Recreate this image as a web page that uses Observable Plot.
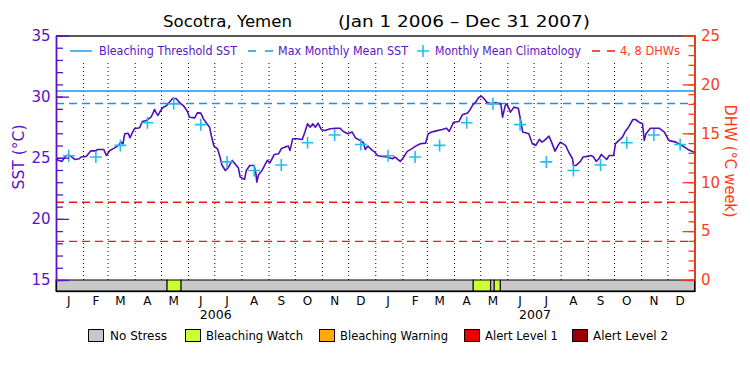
<!DOCTYPE html>
<html><head><meta charset="utf-8">
<script src="https://cdn.jsdelivr.net/npm/d3@7"></script>
<script src="https://cdn.jsdelivr.net/npm/@observablehq/plot@0.6"></script>
<style>
body{margin:0;background:#fff;}
#wrap{position:relative;width:750px;height:375px;font-family:"DejaVu Sans",sans-serif;background:#fff;}
#plot{position:absolute;left:0;top:0;}
#overlay{position:absolute;left:0;top:0;pointer-events:none;}
</style></head><body>
<div id="wrap"><div id="plot"></div><svg id="overlay" width="750" height="375"></svg></div>
<script>
// ---- data ----
const titleLeft = "Socotra, Yemen";
const titleRight = "(Jan 1 2006 – Dec 31 2007)";
const sstDay = [0,6,11,15,21,26,28,34,39,45,47,54,57,61,66,70,74,76,78,82,84,87,89,95,98,103,108,110,112,114,116,119,122,126,129,133,137,141,145,149,150,152,158,161,165,168,172,175,177,180,184,
187,189,193,196,201,204,208,210,215,217,221,226,228,229,231,235,238,241,244,249,254,257,261,265,267,270,275,281,284,287,290,293,296,299,303,307,313,319,324,328,333,338,342,347,351,353,356,361,364,
367,372,378,384,387,393,397,401,406,412,416,422,425,429,433,441,446,449,454,460,464,470,473,476,479,483,486,489,492,496,502,508,510,513,515,519,523,528,531,533,540,544,548,
552,555,558,563,566,570,573,576,582,586,590,591,594,599,602,607,611,614,617,620,623,626,629,632,637,639,643,647,651,654,659,662,666,670,672,674,679,689,695,700,708,716,722,727,730];
const sstValue = [24.9,24.74,25.23,25.23,24.9,24.96,25.1,25.15,25.6,25.6,25.72,25.72,25.23,25.64,25.83,26.0,26.32,26.18,27.0,27.05,26.67,27.14,27.41,27.49,28.0,28.09,28.36,28.63,28.99,28.71,28.5,28.9,29.18,29.31,29.58,29.91,29.86,29.53,29.31,28.9,28.77,28.36,28.3,28.71,28.69,28.22,27.82,27.54,26.86,26.0,25.77,
25.1,24.47,24.0,24.2,24.82,24.55,24.2,23.46,23.27,24.0,24.41,24.41,23.74,23.05,23.65,24.0,24.41,24.82,24.63,25.31,25.37,25.77,25.91,26.0,25.64,26.59,26.59,26.54,27.14,27.82,27.54,27.82,27.54,27.87,27.33,27.27,27.41,27.46,27.46,27.19,27.0,27.14,26.65,26.46,26.27,25.72,26.0,25.64,25.5,
25.23,25.15,25.1,24.96,25.1,24.74,25.1,25.56,25.77,26.05,26.18,26.24,27.0,27.14,27.22,27.35,27.46,27.19,27.95,28.0,28.55,28.71,28.99,29.37,29.58,29.99,30.07,29.86,29.58,29.45,29.53,29.45,28.36,29.31,29.45,28.77,29.18,29.09,27.95,27.14,27.0,26.18,26.05,
26.54,26.32,26.46,26.81,26.32,25.58,26.0,26.32,26.05,25.45,24.96,24.41,24.41,24.74,25.1,25.15,25.23,25.1,24.74,24.96,25.31,25.1,24.9,25.23,25.23,26.18,26.46,26.73,27.27,27.54,28.17,28.17,27.95,27.82,26.46,27.0,27.46,27.46,27.14,26.46,26.32,26.0,25.72,25.56,25.45];
const climYears = [2006, 2007];
const climValue = [25.2,25.1,26.05,27.9,29.45,27.75,24.7,24.0,24.45,26.27,26.9,26.12];
const bleachingThreshold = 30.5;
const maxMonthlyMean = 29.48;
const dhwLines = [4, 8];
const stressStart = ["2006-01-01","2006-05-08","2006-05-24","2007-04-23","2007-05-13","2007-05-17","2007-05-24"];
const stressEnd   = ["2006-05-08","2006-05-24","2007-04-23","2007-05-13","2007-05-17","2007-05-24","2008-01-01"];
const stressLevel = ["No Stress","Bleaching Watch","No Stress","Bleaching Watch","No Stress","Bleaching Watch","No Stress"];
const stressNames = ["No Stress","Bleaching Watch","Bleaching Warning","Alert Level 1","Alert Level 2"];
const stressColors = ["#c8c8c8","#ccff33","#ffaa00","#ee0000","#990000"];
const monthLetters = ["J","F","M","A","M","J","J","A","S","O","N","D"];
const sstMajorTicks = [15,20,25,30,35];
const sstMinorTicks = d3.range(15, 36);
const dhwMajorTicks = [0,5,10,15,20,25];
const dhwMinorTicks = d3.range(0, 26);
const topLegend = ["Bleaching Threshold SST","Max Monthly Mean SST","Monthly Mean Climatology","4, 8 DHWs"];

// ---- styles ----
const purple = "#5a14c4", lineColor = "#5010b8", blue = "#1496f0", cyan = "#20bff0", red = "#ee1a1a", orange = "#ff3c14";

// ---- derived ----
const start = new Date(Date.UTC(2006,0,1));
const end = new Date(Date.UTC(2008,0,1));
const sst = sstDay.map((d,i)=>({date: d3.utcDay.offset(start, d), value: sstValue[i]}));
const clim = climYears.flatMap(yr => climValue.map((v,m)=>({date: new Date(Date.UTC(yr,m,15)), value: v})));
const dhwToSst = d => 15 + d*20/25;
const stress = stressStart.map((s,i)=>({x1: new Date(s+"T00:00Z"), x2: new Date(stressEnd[i]+"T00:00Z"), level: stressLevel[i]}));
const colorOf = name => stressColors[stressNames.indexOf(name)];
const monthStarts = d3.utcMonth.range(d3.utcMonth.offset(start,1), end);
const monthMids = d3.utcMonth.range(start, end).map(d => d3.utcDay.offset(d, 14));
const yearMids = climYears.map(y => new Date(Date.UTC(y,6,2)));

const W = 750, H = 325, mL = 56, mR = 55.5, mT = 35.5, mB = 34;
const innerW = W - mL - mR;
const yBottom = 14.1;

const plusSymbol = {draw(ctx, size){ const r = Math.sqrt(size/Math.PI); ctx.moveTo(-r,0); ctx.lineTo(r,0); ctx.moveTo(0,-r); ctx.lineTo(0,r);} };

const chart = Plot.plot({
  width: W, height: H,
  marginLeft: mL, marginRight: mR, marginTop: mT, marginBottom: mB,
  style: {fontFamily: "DejaVu Sans, sans-serif", background: "#fff", overflow: "visible"},
  x: {type: "utc", domain: [start, end]},
  y: {domain: [yBottom, 35]},
  color: {type: "identity"},
  marks: [
    Plot.rect(stress, {x1: "x1", x2: "x2", y1: yBottom, y2: 15, fill: d => colorOf(d.level), stroke: "black", strokeWidth: 1}),
    Plot.ruleX(monthStarts, {y1: 15, y2: 33, stroke: "black", strokeWidth: 1, strokeDasharray: "1,3"}),
    Plot.ruleY(dhwLines, {y: d => dhwToSst(d), stroke: red, strokeWidth: 1.3, strokeDasharray: "8,5"}),
    Plot.ruleY([maxMonthlyMean], {stroke: blue, strokeWidth: 1.3, strokeDasharray: "8,5"}),
    Plot.ruleY([bleachingThreshold], {stroke: blue, strokeWidth: 1.3}),
    Plot.line(sst, {x: "date", y: "value", stroke: lineColor, strokeWidth: 1.6}),
    Plot.dot(clim, {x: "date", y: "value", symbol: plusSymbol, r: 6, stroke: cyan, strokeWidth: 1.6, fill: "none"}),
    Plot.frame({stroke: "black", strokeWidth: 1.3}),
    Plot.ruleX([start], {y1: 15, y2: 35, stroke: purple, strokeWidth: 1.5}),
    Plot.ruleX([end], {y1: 15, y2: 35, stroke: orange, strokeWidth: 1.5}),
    Plot.tickY(sstMinorTicks, {y: d => d, stroke: purple, strokeWidth: 1.3, insetRight: innerW - 7}),
    Plot.tickY(sstMajorTicks, {y: d => d, stroke: purple, strokeWidth: 1.3, insetRight: innerW - 13}),
    Plot.tickY(dhwMinorTicks, {y: d => dhwToSst(d), stroke: orange, strokeWidth: 1.3, insetLeft: innerW - 6}),
    Plot.tickY(dhwMajorTicks, {y: d => dhwToSst(d), stroke: orange, strokeWidth: 1.3, insetLeft: innerW - 12}),
    Plot.axisY(sstMajorTicks, {anchor: "left", tickSize: 0, tickPadding: 6, fontSize: 15, fill: purple, tickFormat: d => String(d), label: null}),
    Plot.axisY(dhwMajorTicks.map(dhwToSst), {anchor: "right", tickSize: 0, tickPadding: 6, fontSize: 15, fill: orange, tickFormat: v => String(Math.round((v-15)*25/20)), label: null}),
    Plot.axisX(monthMids, {anchor: "bottom", tickSize: 0, tickPadding: 5, fontSize: 12, fill: "black", tickFormat: d => monthLetters[d.getUTCMonth()], label: null}),
    Plot.axisX(yearMids, {anchor: "bottom", tickSize: 0, tickPadding: 19, fontSize: 12.5, fill: "black", tickFormat: d => String(d.getUTCFullYear()), label: null})
  ]
});
document.getElementById("plot").appendChild(chart);

// ---- overlay: title, legends, axis titles ----
const ov = d3.select("#overlay").style("font-family", "DejaVu Sans, sans-serif");
function txt(x, y, s, len, size, color, extra){
  const t = ov.append("text").attr("x", x).attr("y", y).attr("font-size", size).attr("fill", color).text(s);
  if (len) t.attr("textLength", len).attr("lengthAdjust", "spacingAndGlyphs");
  if (extra) extra(t);
  return t;
}
txt(163, 27, titleLeft, 129, 16, "black");
txt(338, 27, titleRight, 252, 16, "black");

// top legend
const ly = 51;
ov.append("line").attr("x1",70).attr("x2",92).attr("y1",ly).attr("y2",ly).attr("stroke",blue).attr("stroke-width",1.4);
txt(99, 55, topLegend[0], 138, 11.5, purple);
ov.append("line").attr("x1",248).attr("x2",273).attr("y1",ly).attr("y2",ly).attr("stroke",blue).attr("stroke-width",1.4).attr("stroke-dasharray","8,9");
txt(278, 55, topLegend[1], 130, 11.5, purple);
ov.append("path").attr("d",`M417,${ly}H429M423,${ly-6}V${ly+6}`).attr("stroke",cyan).attr("stroke-width",1.6);
txt(435, 55, topLegend[2], 146, 11.5, purple);
ov.append("line").attr("x1",592).attr("x2",615).attr("y1",ly).attr("y2",ly).attr("stroke",red).attr("stroke-width",1.4).attr("stroke-dasharray","8,7");
txt(620, 55, topLegend[3], 60, 11.5, orange);

// bottom legend
const boxX = [88, 185, 319, 464, 572];
const labX = [110, 206, 340, 485, 593];
const labLen = [57, 97, 108, 73, 75];
stressNames.forEach((n,i)=>{
  ov.append("rect").attr("x", boxX[i]+0.5).attr("y", 329.5).attr("width", 15).attr("height", 12).attr("fill", stressColors[i]).attr("stroke","black").attr("stroke-width",1);
  txt(labX[i], 340, n, labLen[i], 12, "black");
});

// axis titles
txt(0, 0, "SST (°C)", 65, 16, purple, t => t.attr("text-anchor","middle").attr("transform","translate(24,157) rotate(-90)"));
txt(0, 0, "DHW (°C week)", 113, 16, orange, t => t.attr("text-anchor","middle").attr("transform","translate(725,161) rotate(90)"));
</script>
</body></html>
